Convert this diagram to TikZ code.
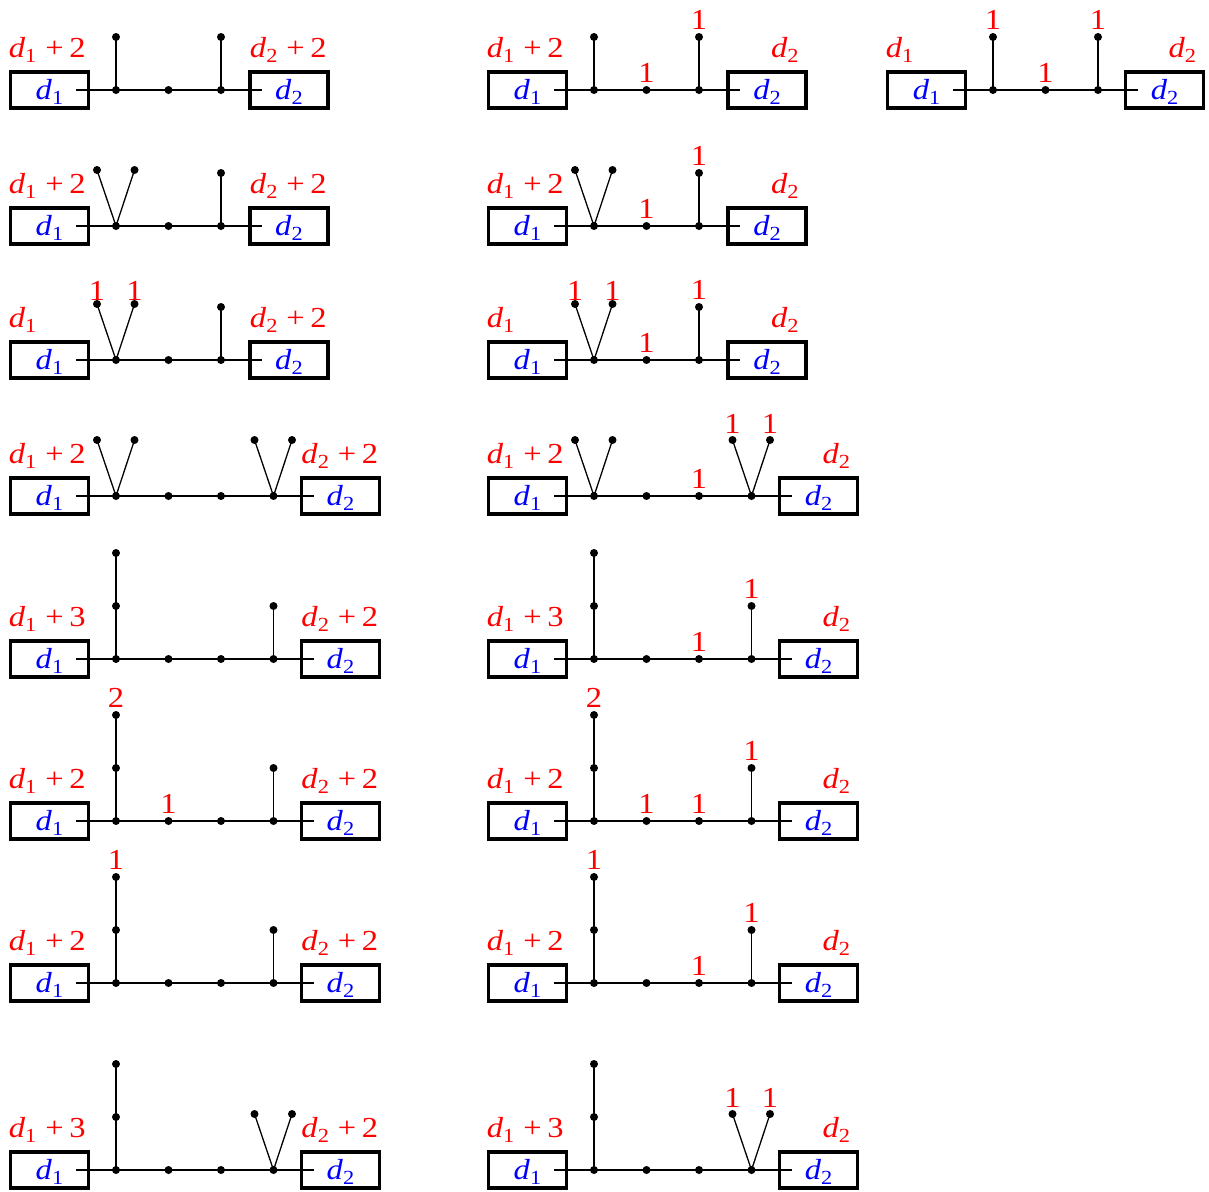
\documentclass[tikz,border=0pt]{standalone}
\usepackage{fontspec}
\setmainfont{Liberation Serif}
\usepackage{graphicx}
\newcommand\fs{\fontsize{29}{32}\selectfont}
\newcommand\sx[1]{\scalebox{1.12}[1]{#1}}
\newcommand\dd[1]{\textit{d}\raisebox{-0.2em}{\fontsize{20}{20}\selectfont #1}}
\newcommand\dpl[2]{\sx{\dd{#1}\kern8pt+\kern5pt#2}}
\newcommand\donly[1]{\sx{\dd{#1}}}
\tikzset{
  dot/.style={circle,fill=black,inner sep=0pt,minimum size=8pt},
  boxn/.style={draw,line width=3.6pt,minimum width=78pt,minimum height=35.5pt,inner sep=0pt},
  spine/.style={line width=1.8pt},
  twig/.style={line width=1.3pt},
  lab/.style={text=red,inner sep=0pt,font=\fs},
  inl/.style={text=blue,inner sep=0pt,font=\fs,anchor=base},
}
% panel frame: prefix, ox, Y, right box centre offset
\newcommand\mkpanel[4]{%
  \node[boxn] (#1L) at ({#2+49.5},#3) {};
  \node[boxn] (#1R) at ({#2+#4},#3) {};
  \node[inl] (#1Lt) at ([yshift=-9pt]#1L.center) {\donly{1}};
  \node[inl] (#1Rt) at ([yshift=-9pt]#1R.center) {\donly{2}};
  \coordinate (#1s) at ({#2+76},#3);
  \coordinate (#1e) at ({#2+#4-27},#3);
  \node[dot] (#1a) at ({#2+116},#3) {};
  \node[dot] (#1b) at ({#2+168.5},#3) {};
  \node[dot] (#1c) at ({#2+221},#3) {};
}
\newcommand\spineS[1]{\draw[spine] (#1s) -- (#1a.center) -- (#1b.center) -- (#1c.center) -- (#1e);}
\newcommand\spineL[3]{\node[dot] (#1d) at ({#2+273.5},#3) {};
  \draw[spine] (#1s) -- (#1a.center) -- (#1b.center) -- (#1c.center) -- (#1d.center) -- (#1e);}
\newcommand\stub[3]{\node[dot] (#2) at ([yshift=#3pt]#1.center) {};
  \draw[twig] (#1.center) -- (#2.center);}
\newcommand\Vee[1]{\node[dot] (#1v1) at ([shift={(-19pt,56pt)}]#1.center) {};
  \node[dot] (#1v2) at ([shift={(18.5pt,56pt)}]#1.center) {};
  \draw[twig] (#1v1.center) -- (#1.center) -- (#1v2.center);}
\newcommand\vl[3][8]{\node[lab,anchor=base] (#2-l) at ([yshift=#1pt]#2.center) {\sx{#3}};}
\newcommand\Ll[2]{\node[lab,anchor=base west] (#1ll) at ([yshift=33pt]#1L.west) {#2};}
\newcommand\Rl[3]{\node[lab,anchor=base east] (#1rl) at ([shift={(-#3pt,33pt)}]#1R.east) {#2};}
\begin{document}
\begin{tikzpicture}[x=1pt,y=-1pt]
\useasboundingbox (0,0) rectangle (1209,1191);
% ---------- Row 1
\mkpanel{P11}{0}{90}{289}\spineS{P11}
\stub{P11a}{P11a1}{53}\stub{P11c}{P11c1}{53}
\Ll{P11}{\dpl{1}{2}}\Rl{P11}{\dpl{2}{2}}{3}
\mkpanel{P12}{478}{90}{289}\spineS{P12}
\stub{P12a}{P12a1}{53}\stub{P12c}{P12c1}{53}
\vl{P12c1}{1}\vl{P12b}{1}
\Ll{P12}{\dpl{1}{2}}\Rl{P12}{\donly{2}}{9}
\mkpanel{P13}{877}{90}{287.5}\spineS{P13}
\stub{P13a}{P13a1}{53}\stub{P13c}{P13c1}{53}
\vl{P13a1}{1}\vl{P13c1}{1}\vl{P13b}{1}
\Ll{P13}{\donly{1}}\Rl{P13}{\donly{2}}{9}
% ---------- Row 2
\mkpanel{P21}{0}{226}{289}\spineS{P21}
\Vee{P21a}\stub{P21c}{P21c1}{53}
\Ll{P21}{\dpl{1}{2}}\Rl{P21}{\dpl{2}{2}}{3}
\mkpanel{P22}{478}{226}{289}\spineS{P22}
\Vee{P22a}\stub{P22c}{P22c1}{53}
\vl{P22c1}{1}\vl{P22b}{1}
\Ll{P22}{\dpl{1}{2}}\Rl{P22}{\donly{2}}{9}
% ---------- Row 3
\mkpanel{P31}{0}{360}{289}\spineS{P31}
\Vee{P31a}\stub{P31c}{P31c1}{53}
\vl[4]{P31av1}{1}\vl[4]{P31av2}{1}
\Ll{P31}{\donly{1}}\Rl{P31}{\dpl{2}{2}}{3}
\mkpanel{P32}{478}{360}{289}\spineS{P32}
\Vee{P32a}\stub{P32c}{P32c1}{53}
\vl[4]{P32av1}{1}\vl[4]{P32av2}{1}\vl{P32c1}{1}\vl{P32b}{1}
\Ll{P32}{\donly{1}}\Rl{P32}{\donly{2}}{9}
% ---------- Row 4
\mkpanel{P41}{0}{496}{340.5}\spineL{P41}{0}{496}
\Vee{P41a}\Vee{P41d}
\Ll{P41}{\dpl{1}{2}}\Rl{P41}{\dpl{2}{2}}{3}
\mkpanel{P42}{478}{496}{340.5}\spineL{P42}{478}{496}
\Vee{P42a}\Vee{P42d}
\vl{P42c}{1}\vl[7]{P42dv1}{1}\vl[7]{P42dv2}{1}
\Ll{P42}{\dpl{1}{2}}\Rl{P42}{\donly{2}}{9}
% ---------- Row 5
\mkpanel{P51}{0}{659}{340.5}\spineL{P51}{0}{659}
\stub{P51a}{P51a1}{53}\stub{P51a1}{P51a2}{53}\stub{P51d}{P51d1}{53}
\Ll{P51}{\dpl{1}{3}}\Rl{P51}{\dpl{2}{2}}{3}
\mkpanel{P52}{478}{659}{340.5}\spineL{P52}{478}{659}
\stub{P52a}{P52a1}{53}\stub{P52a1}{P52a2}{53}\stub{P52d}{P52d1}{53}
\vl{P52c}{1}\vl{P52d1}{1}
\Ll{P52}{\dpl{1}{3}}\Rl{P52}{\donly{2}}{9}
% ---------- Row 6
\mkpanel{P61}{0}{821}{340.5}\spineL{P61}{0}{821}
\stub{P61a}{P61a1}{53}\stub{P61a1}{P61a2}{53}\stub{P61d}{P61d1}{53}
\vl{P61a2}{2}\vl{P61b}{1}
\Ll{P61}{\dpl{1}{2}}\Rl{P61}{\dpl{2}{2}}{3}
\mkpanel{P62}{478}{821}{340.5}\spineL{P62}{478}{821}
\stub{P62a}{P62a1}{53}\stub{P62a1}{P62a2}{53}\stub{P62d}{P62d1}{53}
\vl{P62a2}{2}\vl{P62b}{1}\vl{P62c}{1}\vl{P62d1}{1}
\Ll{P62}{\dpl{1}{2}}\Rl{P62}{\donly{2}}{9}
% ---------- Row 7
\mkpanel{P71}{0}{983}{340.5}\spineL{P71}{0}{983}
\stub{P71a}{P71a1}{53}\stub{P71a1}{P71a2}{53}\stub{P71d}{P71d1}{53}
\vl{P71a2}{1}
\Ll{P71}{\dpl{1}{2}}\Rl{P71}{\dpl{2}{2}}{3}
\mkpanel{P72}{478}{983}{340.5}\spineL{P72}{478}{983}
\stub{P72a}{P72a1}{53}\stub{P72a1}{P72a2}{53}\stub{P72d}{P72d1}{53}
\vl{P72a2}{1}\vl{P72c}{1}\vl{P72d1}{1}
\Ll{P72}{\dpl{1}{2}}\Rl{P72}{\donly{2}}{9}
% ---------- Row 8
\mkpanel{P81}{0}{1170}{340.5}\spineL{P81}{0}{1170}
\stub{P81a}{P81a1}{53}\stub{P81a1}{P81a2}{53}\Vee{P81d}
\Ll{P81}{\dpl{1}{3}}\Rl{P81}{\dpl{2}{2}}{3}
\mkpanel{P82}{478}{1170}{340.5}\spineL{P82}{478}{1170}
\stub{P82a}{P82a1}{53}\stub{P82a1}{P82a2}{53}\Vee{P82d}
\vl[7]{P82dv1}{1}\vl[7]{P82dv2}{1}
\Ll{P82}{\dpl{1}{3}}\Rl{P82}{\donly{2}}{9}
\end{tikzpicture}
\end{document}
